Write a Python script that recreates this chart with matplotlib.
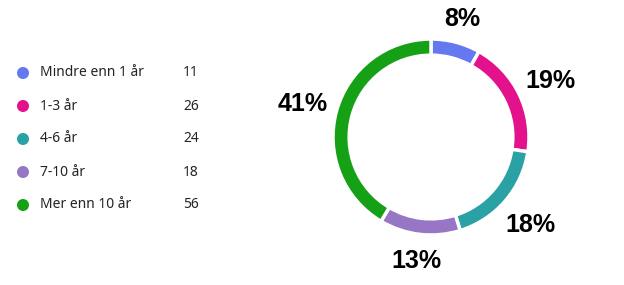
import matplotlib
matplotlib.use('Agg')
import matplotlib.pyplot as plt
import numpy as np

# data
kategorier = ['Mindre enn 1 år', '1-3 år', '4-6 år', '7-10 år', 'Mer enn 10 år']
antall = [11, 26, 24, 18, 56]
farger = ['#6479ef', '#e3118c', '#2aa1a5', '#9676c5', '#16a016']

W, H = 624, 285
fig = plt.figure(figsize=(W / 100, H / 100), dpi=100)

# legend drawn in pixel coordinates
lax = fig.add_axes([0, 0, 1, 1])
lax.set_xlim(0, W)
lax.set_ylim(H, 0)
lax.axis('off')
y0, dy = 73, 33
for i, (kat, n, c) in enumerate(zip(kategorier, antall, farger)):
    y = y0 + i * dy
    lax.scatter([23], [y], s=75, color=c, edgecolors='none')
    lax.text(40, y, kat, fontsize=10, family='Noto Sans', color='#252423', va='center')
    lax.text(183, y, str(n), fontsize=10, family='Noto Sans', color='#252423', va='center')

# donut
cx, cy, R = 431, 137, 98
lim = 1.4
size = 2 * R * lim
ax = fig.add_axes([(cx - size / 2) / W, (H - cy - size / 2) / H, size / W, size / H])
wedges, texts = ax.pie(antall, colors=farger, startangle=90, counterclock=False, radius=1,
                       wedgeprops=dict(width=0.165, edgecolor='white', linewidth=2.5))
ax.set_xlim(-lim, lim)
ax.set_ylim(-lim, lim)
ax.set_aspect('equal')

total = sum(antall)
for w, n in zip(wedges, antall):
    ang = np.deg2rad((w.theta1 + w.theta2) / 2)
    d = 1.235 + 0.13 * abs(np.cos(ang))
    ax.text(d * np.cos(ang), d * np.sin(ang), f'{100 * n / total:.0f}%',
            ha='center', va='center_baseline', fontsize=18, fontweight='bold',
            family='Liberation Sans', color='black')

fig.savefig('out.png', dpi=100)
